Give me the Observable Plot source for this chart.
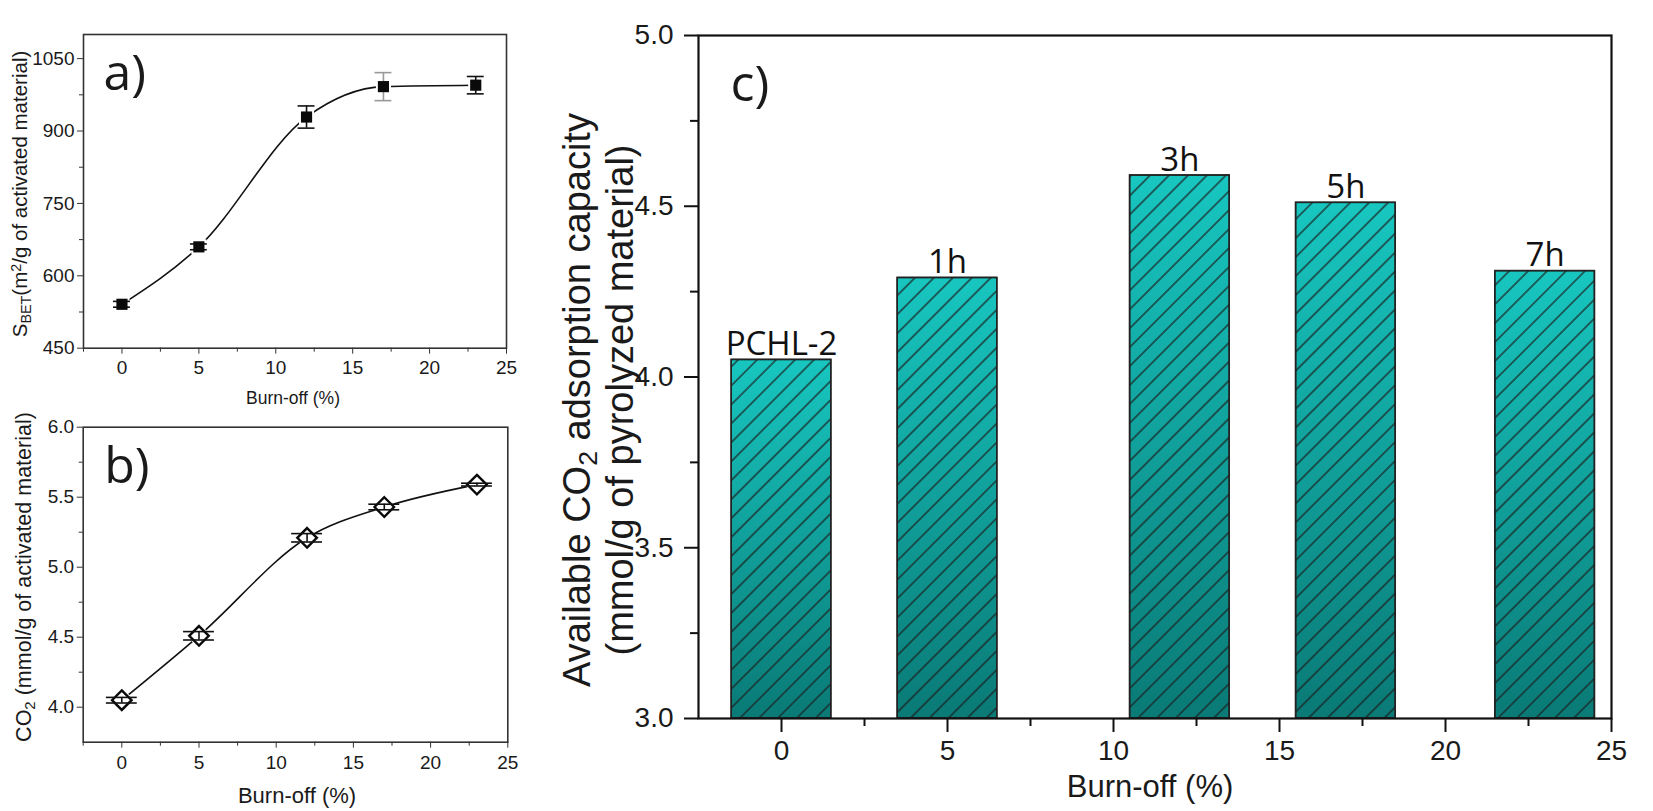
<!DOCTYPE html>
<html><head><meta charset="utf-8">
<script src="https://cdn.jsdelivr.net/npm/d3@7"></script>
<script src="https://cdn.jsdelivr.net/npm/@observablehq/plot@0.6"></script>
<style>
html,body{margin:0;padding:0;background:#fff;}
#fig{position:relative;width:1653px;height:811px;overflow:hidden;background:#fff;}
.panel{position:absolute;}
.panel svg{overflow:visible;}
</style></head><body>
<div id="fig">
  <div class="panel" id="pa" style="left:0;top:0"></div>
  <div class="panel" id="pb" style="left:0;top:400px"></div>
  <div class="panel" id="pc" style="left:520px;top:0"></div>
</div>
<script>
// ---------- data ----------
const burnOff = [0, 5, 12, 17, 23];
const sbet = [541, 660, 929, 992, 995];
const sbetErr = [6, 6, 23, 29, 18];
const sbetErrColor = ["#111", "#111", "#111", "#999", "#111"];
const co2Act = [4.05, 4.51, 5.21, 5.43, 5.59];
const co2ActErr = [0.02, 0.03, 0.03, 0.02, 0.01];
const barLabels = ["PCHL-2", "1h", "3h", "5h", "7h"];
const co2Pyro = [4.05, 4.29, 4.59, 4.51, 4.31];
const barWidth = 3;
const xTicks = [0, 5, 10, 15, 20, 25];
const xMinor = [-2.5, 2.5, 7.5, 12.5, 17.5, 22.5];
const sbetTicks = [450, 600, 750, 900, 1050];
const sbetMinor = [525, 675, 825, 975];
const co2ActTicks = [4.0, 4.5, 5.0, 5.5, 6.0];
const co2ActMinor = [4.25, 4.75, 5.25, 5.75];
const co2PyroTicks = [3.0, 3.5, 4.0, 4.5, 5.0];
const co2PyroMinor = [3.25, 3.75, 4.25, 4.75];

const dataA = burnOff.map((x, i) => ({x, y: sbet[i], e: sbetErr[i], c: sbetErrColor[i]}));
const dataB = burnOff.map((x, i) => ({x, y: co2Act[i], e: co2ActErr[i]}));
const dataC = burnOff.map((x, i) => ({x, y: co2Pyro[i], label: barLabels[i]}));

const SANS = "'Liberation Sans', Arial, sans-serif";
const LETTER = "'Open Sans', sans-serif";
const INK = "#1a1a1a";

function richText(svg, {x, y, rotate = 0, size, family = SANS, parts, anchor = "middle"}) {
  const t = d3.select(svg).append("text")
    .attr("transform", `translate(${x},${y}) rotate(${rotate})`)
    .attr("text-anchor", anchor)
    .attr("font-family", family)
    .attr("font-size", size)
    .attr("fill", INK);
  for (const p of parts) {
    const s = t.append("tspan").text(p.t);
    if (p.sub) s.attr("font-size", size * 0.7).attr("baseline-shift", "-25%");
    if (p.sup) s.attr("font-size", size * 0.7).attr("baseline-shift", "45%");
  }
  return t;
}

// ---------- panel a ----------
const plotA = Plot.plot({
  width: 520, height: 400,
  marginLeft: 83, marginRight: 14, marginTop: 34, marginBottom: 52.3,
  style: {fontFamily: SANS, fontSize: "19px", color: INK, background: "transparent"},
  x: {domain: [-2.5, 25]},
  y: {domain: [450, 1100]},
  marks: [
    Plot.axisX({ticks: xTicks, tickSize: 6, tickPadding: 6, label: null, stroke: "#333"}),
    Plot.axisX({ticks: xMinor, tickSize: 4, tickFormat: () => "", label: null, stroke: "#333"}),
    Plot.axisY({ticks: sbetTicks, tickSize: 6, tickPadding: 3, tickFormat: d3.format("d"), label: null, stroke: "#333"}),
    Plot.axisY({ticks: sbetMinor, tickSize: 4, tickFormat: () => "", label: null, stroke: "#333"}),
    Plot.frame({stroke: "#333", strokeWidth: 1.6}),
    Plot.line(dataA, {x: "x", y: "y", curve: "monotone-x", stroke: "#111", strokeWidth: 1.6}),
    Plot.dot(dataA, {x: "x", y: "y", symbol: "square", r: 8.5, fill: "white"}),
    Plot.ruleX(dataA, {x: "x", y1: d => d.y - d.e, y2: d => d.y + d.e, stroke: "c", strokeWidth: 1.6}),
    Plot.ruleY(dataA, {y: d => d.y + d.e, x1: d => d.x - 0.55, x2: d => d.x + 0.55, stroke: "c", strokeWidth: 1.6}),
    Plot.ruleY(dataA, {y: d => d.y - d.e, x1: d => d.x - 0.55, x2: d => d.x + 0.55, stroke: "c", strokeWidth: 1.6}),
    Plot.dot(dataA, {x: "x", y: "y", symbol: "square", r: 6.3, fill: "#0a0a0a"}),
    Plot.text(["a)"], {frameAnchor: "top-left", dx: 20, dy: 20, lineAnchor: "top", textAnchor: "start",
      fontFamily: LETTER, fontSize: 50, fill: INK})
  ]
});
document.getElementById("pa").appendChild(plotA);
richText(plotA, {x: 27, y: 194, rotate: -90, size: 20.5,
  parts: [{t: "S"}, {t: "BET", sub: true}, {t: "(m"}, {t: "2", sup: true}, {t: "/g of activated material)"}]});
richText(plotA, {x: 293, y: 404, size: 17.5, parts: [{t: "Burn-off (%)"}]});

// ---------- panel b ----------
const plotB = Plot.plot({
  width: 520, height: 411,
  marginLeft: 82.7, marginRight: 12.7, marginTop: 26.7, marginBottom: 69.3,
  style: {fontFamily: SANS, fontSize: "19px", color: INK, background: "transparent"},
  x: {domain: [-2.5, 25]},
  y: {domain: [3.75, 6.0]},
  marks: [
    Plot.axisX({ticks: xTicks, tickSize: 6, tickPadding: 7, label: null, stroke: "#333"}),
    Plot.axisX({ticks: xMinor, tickSize: 4, tickFormat: () => "", label: null, stroke: "#333"}),
    Plot.axisY({ticks: co2ActTicks, tickSize: 6, tickPadding: 3, tickFormat: d3.format(".1f"), label: null, stroke: "#333"}),
    Plot.axisY({ticks: co2ActMinor, tickSize: 4, tickFormat: () => "", label: null, stroke: "#333"}),
    Plot.frame({stroke: "#333", strokeWidth: 1.6}),
    Plot.line(dataB, {x: "x", y: "y", curve: "monotone-x", stroke: "#111", strokeWidth: 1.6}),
    Plot.dot(dataB, {x: "x", y: "y", symbol: "diamond2", r: 11.5, fill: "white", stroke: "none"}),
    Plot.dot(dataB, {x: "x", y: "y", symbol: "diamond2", r: 8.8, fill: "white", stroke: "#0a0a0a", strokeWidth: 2.4}),
    Plot.ruleX(dataB, {x: "x", y1: d => d.y - d.e, y2: d => d.y + d.e, stroke: "#111", strokeWidth: 1.6}),
    Plot.ruleY(dataB, {y: d => d.y + d.e, x1: d => d.x - 1.0, x2: d => d.x + 1.0, stroke: "#111", strokeWidth: 1.6}),
    Plot.ruleY(dataB, {y: d => d.y - d.e, x1: d => d.x - 1.0, x2: d => d.x + 1.0, stroke: "#111", strokeWidth: 1.6}),
    Plot.text(["b)"], {frameAnchor: "top-left", dx: 21, dy: 20, lineAnchor: "top", textAnchor: "start",
      fontFamily: LETTER, fontSize: 50, fill: INK})
  ]
});
document.getElementById("pb").appendChild(plotB);
richText(plotB, {x: 31, y: 177, rotate: -90, size: 21.5,
  parts: [{t: "CO"}, {t: "2", sub: true}, {t: " (mmol/g of activated material)"}]});
richText(plotB, {x: 297, y: 403, size: 22, parts: [{t: "Burn-off (%)"}]});

// ---------- panel c ----------
const plotC = Plot.plot({
  width: 1133, height: 811,
  marginLeft: 178, marginRight: 42, marginTop: 35, marginBottom: 93,
  style: {fontFamily: SANS, fontSize: "28px", color: INK, background: "transparent"},
  x: {domain: [-2.5, 25]},
  y: {domain: [3, 5]},
  marks: [
    Plot.rect(dataC, {x1: d => d.x - barWidth / 2, x2: d => d.x + barWidth / 2, y1: 3, y2: "y",
      fill: "url(#barGrad)", stroke: "#222", strokeWidth: 1.5}),
    Plot.rect(dataC, {x1: d => d.x - barWidth / 2, x2: d => d.x + barWidth / 2, y1: 3, y2: "y",
      fill: "url(#hatch)", stroke: "#222", strokeWidth: 1.5}),
    Plot.text(dataC, {x: "x", y: "y", text: "label", lineAnchor: "bottom", dy: -5,
      fontFamily: LETTER, fontSize: 33, fill: "#111"}),
    Plot.axisX({ticks: xTicks, tickSize: 14, tickPadding: 8, label: null, stroke: "#111", strokeWidth: 2}),
    Plot.axisX({ticks: xMinor.slice(1), tickSize: 8, tickFormat: () => "", label: null, stroke: "#111", strokeWidth: 2}),
    Plot.axisY({ticks: co2PyroTicks, tickSize: 14, tickPadding: 11, tickFormat: d3.format(".1f"), label: null, stroke: "#111", strokeWidth: 2}),
    Plot.axisY({ticks: co2PyroMinor, tickSize: 8, tickFormat: () => "", label: null, stroke: "#111", strokeWidth: 2}),
    Plot.frame({stroke: "#111", strokeWidth: 2.2}),
    Plot.text(["c)"], {frameAnchor: "top-left", dx: 32, dy: 30, lineAnchor: "top", textAnchor: "start",
      fontFamily: LETTER, fontSize: 50, fill: INK})
  ]
});
document.getElementById("pc").appendChild(plotC);
// gradient + hatch defs
const defs = d3.select(plotC).insert("defs", ":first-child");
const g = defs.append("linearGradient").attr("id", "barGrad").attr("x1", 0).attr("y1", 0).attr("x2", 0).attr("y2", 1);
g.append("stop").attr("offset", "0%").attr("stop-color", "#18c6c0");
g.append("stop").attr("offset", "100%").attr("stop-color", "#0a7a76");
const pat = defs.append("pattern").attr("id", "hatch").attr("patternUnits", "userSpaceOnUse")
  .attr("width", 13.4).attr("height", 13.4).attr("patternTransform", "rotate(45)");
pat.append("line").attr("x1", 6.7).attr("y1", -1).attr("x2", 6.7).attr("y2", 14.4)
  .attr("stroke", "#1a1a1a").attr("stroke-width", 1.2);

richText(plotC, {x: 70, y: 400, rotate: -90, size: 38,
  parts: [{t: "Available CO"}, {t: "2", sub: true}, {t: " adsorption capacity"}]});
richText(plotC, {x: 113, y: 400, rotate: -90, size: 38,
  parts: [{t: "(mmol/g of pyrolyzed material)"}]});
richText(plotC, {x: 630, y: 797, size: 31, parts: [{t: "Burn-off (%)"}]});
</script>
</body></html>
